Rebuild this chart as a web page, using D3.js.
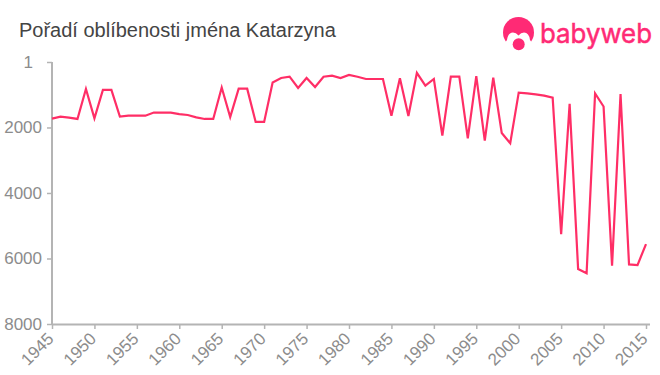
<!DOCTYPE html>
<html>
<head>
<meta charset="utf-8">
<script src="https://cdn.jsdelivr.net/npm/d3@7"></script>
<style>
    body { margin: 0; background: #fff; }
    svg { display: block; font-family: "Liberation Sans", Arial, sans-serif; }
</style>
</head>
<body>
<div id="chart"></div>
<script>
// Chart text
var chartTitle = "Pořadí oblíbenosti jména Katarzyna";
var logoText = "babyweb";

// Years and rank of the name
var years = d3.range(1945, 2016);
var ranks = [
    1730, 1670, 1700, 1740, 825, 1720, 855, 855, 1670, 1640,
    1640, 1640, 1545, 1545, 1545, 1590, 1620, 1690, 1740, 1740,
    780, 1680, 815, 815, 1830, 1830, 630, 490, 450, 795,
    490, 765, 450, 420, 490, 395, 450, 520, 520, 520,
    1640, 500, 1650, 330, 725, 520, 2250, 450, 450, 2330,
    430, 2400, 480, 2170, 2480, 935, 960, 990, 1030, 1090,
    5260, 1280, 6320, 6450, 960, 1360, 6220, 980, 6180, 6200,
    5560
];

// Tick labels
var xTicks = d3.range(1945, 2016, 5);
var yTicks = [1, 2000, 4000, 6000, 8000];

// Set chart dimensions
var chartWidth = 660;
var chartHeight = 375;
var pinkLine = "#ff2e66";
var pinkLogo = "#ff2a75";
var axisGrey = "#b4b4b4";
var tickGrey = "#8c8c8c";

var svg = d3.select("#chart")
    .append("svg")
    .attr("width", chartWidth)
    .attr("height", chartHeight);

// Scales
var xScale = d3.scaleLinear().domain([1945, 2015]).range([52, 646]);
var yScale = d3.scaleLinear().domain([1, 8000]).range([62, 324]);

// Title
svg.append("text")
    .attr("x", 19)
    .attr("y", 37)
    .attr("font-size", 20)
    .attr("fill", "#444")
    .text(chartTitle);

// Y axis
var yAxis = svg.append("g")
    .attr("transform", "translate(52,0)")
    .call(d3.axisLeft(yScale).tickValues(yTicks).tickFormat(d3.format("d")).tickSize(5).tickPadding(5));

yAxis.selectAll("text")
    .attr("font-size", 17)
    .attr("font-family", "Liberation Sans")
    .attr("fill", tickGrey);

// The "1" label sits further left than the others
yAxis.selectAll("text")
    .filter(d => d === 1)
    .attr("dx", -9);

// X axis
var xAxis = svg.append("g")
    .attr("transform", "translate(0,324)")
    .call(d3.axisBottom(xScale).tickValues(xTicks).tickFormat(d3.format("d")).tickSize(5));

xAxis.selectAll("text")
    .attr("font-size", 17)
    .attr("font-family", "Liberation Sans")
    .attr("fill", tickGrey)
    .attr("text-anchor", "end")
    .attr("transform", "rotate(-45)")
    .attr("dx", "-0.56em")
    .attr("dy", "0.28em");

// Axis lines run a little past the last tick
xAxis.select(".domain").attr("d", "M52,0.5H650");
yAxis.select(".domain").attr("d", "M0,62H0V324");

svg.selectAll(".domain, .tick line")
    .attr("stroke", axisGrey)
    .attr("stroke-width", 2);
svg.selectAll(".tick line").attr("stroke-width", 1.5);

// Rank line
var rankLine = d3.line()
    .x((d, i) => xScale(years[i]))
    .y(d => yScale(d));

svg.append("path")
    .datum(ranks)
    .attr("fill", "none")
    .attr("stroke", pinkLine)
    .attr("stroke-width", 2.2)
    .attr("d", rankLine);

// Logo
var logo = svg.append("g");

logo.append("circle").attr("cx", 518.5).attr("cy", 32.5).attr("r", 15.5).attr("fill", pinkLogo);
logo.append("path")
    .attr("d", "M500,50 L507,40 Q508,32.5 513,32.5 Q516,32.5 518.5,35.5 Q521,32.5 524,32.5 Q529,32.5 530,40 L537,50 Z")
    .attr("fill", "#fff");
logo.append("circle").attr("cx", 518.7).attr("cy", 44.3).attr("r", 6).attr("fill", pinkLogo);

logo.append("text")
    .attr("x", 540)
    .attr("y", 43)
    .attr("font-family", "Inter, Lato, sans-serif")
    .attr("font-size", 27)
    .attr("fill", pinkLogo)
    .attr("stroke", pinkLogo)
    .attr("stroke-width", 0.5)
    .attr("textLength", 112)
    .attr("lengthAdjust", "spacingAndGlyphs")
    .text(logoText);
</script>
</body>
</html>
